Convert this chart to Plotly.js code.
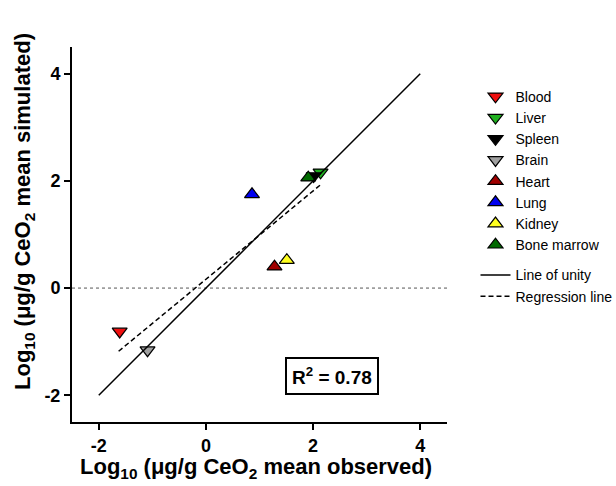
<!DOCTYPE html>
<html>
<head>
<meta charset="utf-8">
<script src="https://cdn.plot.ly/plotly-3.0.1.min.js"></script>
<style>
html,body{margin:0;padding:0;background:#fff;}
#chart{width:616px;height:486px;}
</style>
</head>
<body>
<div id="chart"></div>
<script>
// Organ categories and values (log10 µg/g CeO2)
var organs = ['Blood','Liver','Spleen','Brain','Heart','Lung','Kidney','Bone marrow'];
var observed = [-1.61, 2.14, 2.01, -1.09, 1.28, 0.86, 1.51, 1.91];
var simulated = [-0.81, 2.16, 2.09, -1.16, 0.40, 1.75, 0.52, 2.06];
var symbols = ['triangle-down','triangle-down','triangle-down','triangle-down','triangle-up','triangle-up','triangle-up','triangle-up'];
var colors = ['#f01010','#1fb01f','#000000','#a0a0a0','#a00000','#0000f0','#ffff20','#006a00'];

// Line of unity and regression line endpoints
var unityX = [-2, 4];
var unityY = [-2, 4];
var regX = [-1.63, 2.13];
var regY = [-1.18, 1.92];

var tickVals = [-2, 0, 2, 4];
var tickText = ['-2', '0', '2', '4'];
var r2Text = 'R<sup>2</sup> = 0.78';

var FONT = 'Arial, "Liberation Sans", sans-serif';

var traces = [];
organs.forEach(function(name, i){
  traces.push({
    type:'scatter', mode:'markers', name:name,
    x:[observed[i]], y:[simulated[i]],
    legendgroup:'organs',
    marker:{symbol:symbols[i], size:13, color:colors[i], line:{color:'#000', width:1.2}},
    hoverinfo:'skip'
  });
});
traces.push({
  type:'scatter', mode:'lines', name:'Line of unity',
  x:unityX, y:unityY, legendgroup:'lines',
  line:{color:'#000', width:1.5}, hoverinfo:'skip'
});
traces.push({
  type:'scatter', mode:'lines', name:'Regression line',
  x:regX, y:regY, legendgroup:'lines',
  line:{color:'#000', width:1.5, dash:'5px,3px'}, hoverinfo:'skip'
});

var boldTicks = tickText.map(function(t){ return '<b>' + t + '</b>'; });

var layout = {
  width:616, height:486,
  margin:{l:72, r:169, t:47, b:64, autoexpand:false},
  paper_bgcolor:'#fff', plot_bgcolor:'#fff',
  font:{family:FONT, color:'#000'},
  showlegend:true,
  legend:{
    x:1.076, xanchor:'left', y:0.91, yanchor:'top',
    font:{family:FONT, size:14, color:'#000'},
    tracegroupgap:9, traceorder:'grouped',
    bgcolor:'rgba(0,0,0,0)', borderwidth:0
  },
  xaxis:{
    range:[-2.5, 4.5], tickvals:tickVals, ticktext:boldTicks,
    showgrid:false, zeroline:false, showline:true, linecolor:'#000', linewidth:2,
    ticks:'outside', ticklen:6, tickwidth:1.5, tickcolor:'#000',
    tickfont:{family:FONT, size:18, color:'#000'}
  },
  yaxis:{
    range:[-2.5, 4.5], tickvals:tickVals, ticktext:boldTicks,
    showgrid:false, zeroline:false, showline:true, linecolor:'#000', linewidth:2,
    ticks:'outside', ticklen:6, tickwidth:1.5, tickcolor:'#000',
    tickfont:{family:FONT, size:18, color:'#000'}
  },
  shapes:[
    {type:'line', xref:'paper', yref:'y', x0:0, x1:1, y0:0, y1:0,
     line:{color:'#555', width:1, dash:'dot'}, layer:'below'}
  ],
  annotations:[
    {xref:'paper', yref:'paper', x:(256-72)/375, y:(422-468)/375, xanchor:'center', yanchor:'middle',
     text:'<b>Log<sub>10</sub> (μg/g CeO<sub>2</sub> mean observed)</b>', showarrow:false,
     font:{family:FONT, size:22, color:'#000'}},
    {xref:'paper', yref:'paper', x:(24-72)/375, y:(422-212)/375, xanchor:'center', yanchor:'middle',
     text:'<b>Log<sub>10</sub> (μg/g CeO<sub>2</sub> mean simulated)</b>', showarrow:false, textangle:-90,
     font:{family:FONT, size:22, color:'#000'}},
    {xref:'paper', yref:'paper', x:(332-72)/375, y:(422-376)/375, xanchor:'center', yanchor:'middle',
     text:'<b>'+r2Text+'</b>', showarrow:false,
     font:{family:FONT, size:19, color:'#000'},
     bordercolor:'#000', borderwidth:2, borderpad:5, bgcolor:'#fff'}
  ]
};

Plotly.newPlot('chart', traces, layout, {displayModeBar:false, staticPlot:true});
</script>
</body>
</html>
